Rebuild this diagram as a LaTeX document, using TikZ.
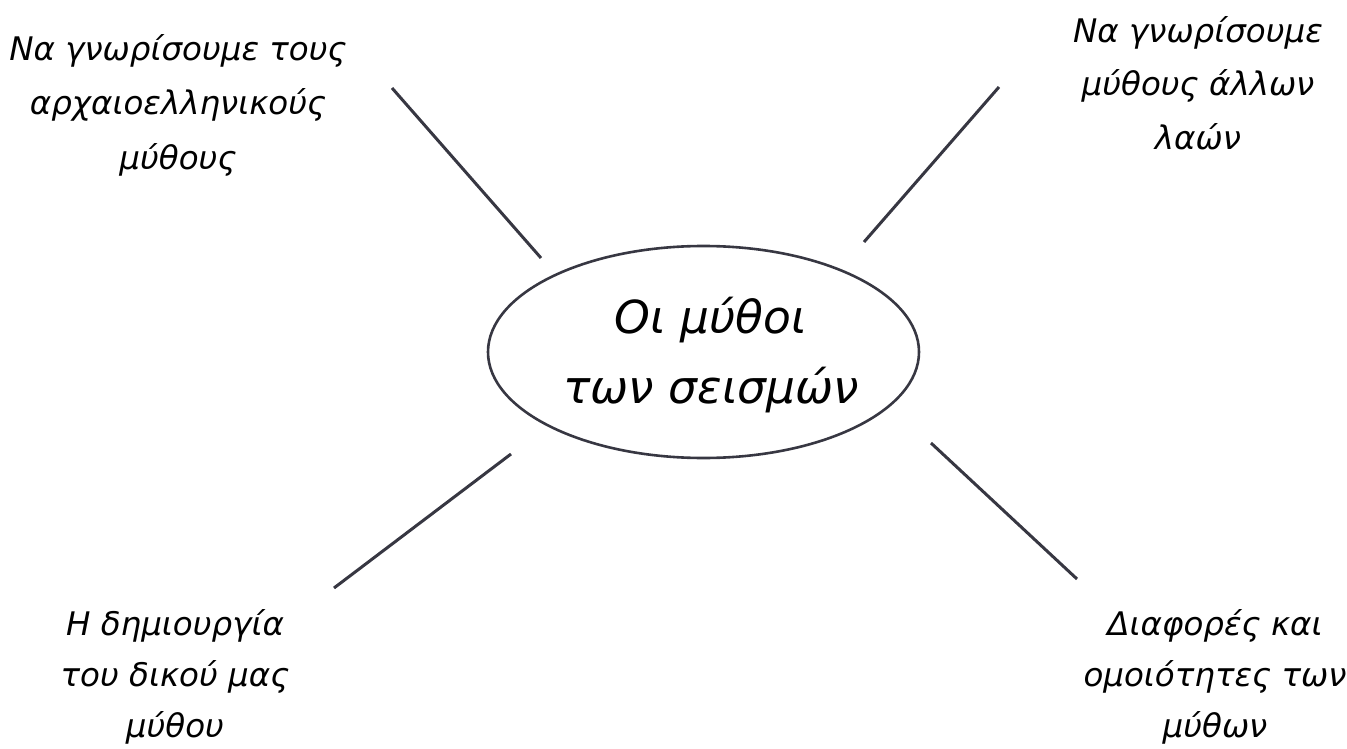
\documentclass[tikz,border=0pt]{standalone}
\usepackage{fontspec}
\setmainfont{DejaVu Sans}
\usepackage{xcolor}
\usetikzlibrary{shapes.geometric}

\definecolor{linegray}{RGB}{55,55,66}

\begin{document}
\begin{tikzpicture}[
      x=1pt, y=-1pt,
      topic/.style={align=center, font=\fontsize{32.5}{#1}\selectfont\itshape},
      topic/.default=52,
      hub/.style={draw=linegray, line width=2.6pt, ellipse, minimum width=431pt, minimum height=212pt, inner sep=0pt},
      hubtext/.style={align=center, font=\fontsize{45.5}{70}\selectfont\itshape},
      ln/.style={draw=linegray, line width=3pt}
    ]
    \useasboundingbox (0,0) rectangle (1347,749);
    \node[hub] (myth) at (703.5,352) {};
    \node[hubtext] (myth-text) at (711,355) {Οι μύθοι\\των σεισμών};
    \node[topic=54.5] (ancient) at (178,105) {Να γνωρίσουμε τους\\αρχαιοελληνικούς\\μύθους};
    \node[topic=53.5] (others) at (1198,83) {Να γνωρίσουμε\\μύθους άλλων\\λαών};
    \node[topic=51] (create) at (175,677) {Η δημιουργία\\του δικού μας\\μύθου};
    \node[topic=51] (compare) at (1215,677) {Διαφορές και\\ομοιότητες των\\μύθων};
    % free ends of the spokes
    \coordinate (ancient-a) at (392,88);  \coordinate (ancient-b) at (541,258);
    \coordinate (others-a) at (999,87);   \coordinate (others-b) at (864,242);
    \coordinate (create-a) at (334,588);  \coordinate (create-b) at (511,454);
    \coordinate (compare-a) at (1077,579); \coordinate (compare-b) at (931,443);
    \draw[ln] (ancient-a) -- (ancient-b); \draw[ln] (others-a) -- (others-b);
    \draw[ln] (create-a) -- (create-b); \draw[ln] (compare-a) -- (compare-b);
  \end{tikzpicture}
\end{document}
